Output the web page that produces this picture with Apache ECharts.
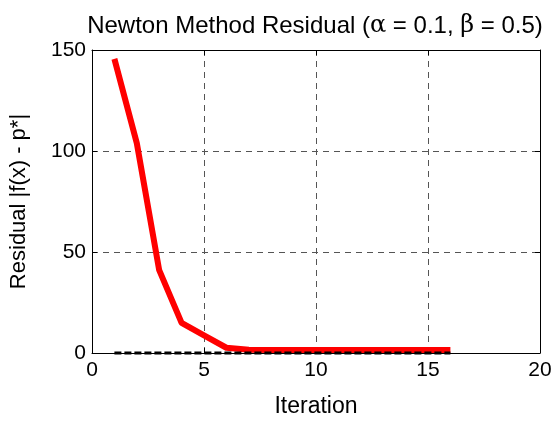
<!DOCTYPE html>
<html>
<head>
<meta charset="utf-8">
<script src="https://cdn.jsdelivr.net/npm/echarts@6/dist/echarts.min.js"></script>
<style>
html,body{margin:0;padding:0;background:#fff;}
#chart{width:555px;height:423px;}
</style>
</head>
<body>
<div id="chart"></div>
<script>
var iterations = [1, 2, 3, 4, 5, 6, 7, 8, 9, 10, 11, 12, 13, 14, 15, 16];
var residuals = [145.6, 103.9, 41, 14.9, 8.7, 2.6, 1.6, 1.5, 1.5, 1.5, 1.5, 1.5, 1.5, 1.5, 1.5, 1.5];
var zeroLine = [0, 0, 0, 0, 0, 0, 0, 0, 0, 0, 0, 0, 0, 0, 0, 0];
var xTicks = [0, 5, 10, 15, 20];
var yTicks = [0, 50, 100, 150];

var FONT = 'Liberation Sans, Arial, sans-serif';
var chart = echarts.init(document.getElementById('chart'));

function pairs(xs, ys) { return xs.map(function (x, i) { return [x, ys[i]]; }); }

var baseAxis = {
  axisLine: { show: true, onZero: false, lineStyle: { color: '#000', width: 1 } },
  axisTick: { show: true, inside: true, length: 5, lineStyle: { color: '#000', width: 1 } },
  axisLabel: { color: '#000', fontSize: 21, fontFamily: FONT },
  splitLine: { show: false }
};

chart.setOption({
  animation: false,
  backgroundColor: '#fff',
  title: {
    text: 'Newton Method Residual ({g|α} = 0.1, {g|β} = 0.5)',
    left: 310, top: 9, textAlign: 'center',
    textStyle: {
      color: '#000', fontSize: 24, fontWeight: 'normal', fontFamily: FONT,
      rich: { g: { fontFamily: 'DejaVu Serif, Liberation Serif, serif', fontSize: 24, color: '#000' } }
    }
  },
  grid: { left: 92, top: 50, width: 448, height: 307, containLabel: false },
  xAxis: [
    Object.assign({}, baseAxis, {
      type: 'value', min: 0, max: 20, interval: 5, position: 'bottom',
      name: 'Iteration', nameLocation: 'middle', nameGap: 42,
      nameTextStyle: { color: '#000', fontSize: 23, fontFamily: FONT },
      axisLabel: { color: '#000', fontSize: 21, fontFamily: FONT, margin: 7,
        formatter: function (v) { return xTicks.indexOf(v) >= 0 ? String(v) : ''; } },
      splitLine: { show: true, lineStyle: { color: '#555', width: 1, type: [6, 5] } }
    }),
    Object.assign({}, baseAxis, {
      type: 'value', min: 0, max: 20, interval: 5, position: 'top',
      axisLabel: { show: false }
    })
  ],
  yAxis: [
    Object.assign({}, baseAxis, {
      type: 'value', min: 0, max: 150, interval: 50, position: 'left',
      name: 'Residual |f(x) - p*|', nameLocation: 'middle', nameGap: 62, nameRotate: 90,
      nameTextStyle: { color: '#000', fontSize: 22, fontFamily: FONT },
      axisLabel: { color: '#000', fontSize: 21, fontFamily: FONT, margin: 6,
        formatter: function (v) { return yTicks.indexOf(v) >= 0 ? String(v) : ''; } },
      splitLine: { show: true, lineStyle: { color: '#555', width: 1, type: [6, 5] } }
    }),
    Object.assign({}, baseAxis, {
      type: 'value', min: 0, max: 150, interval: 50, position: 'right',
      axisLabel: { show: false }
    })
  ],
  series: [
    {
      type: 'line', data: pairs(iterations, residuals), showSymbol: false, symbol: 'none',
      clip: false, z: 3,
      lineStyle: { color: '#ff0000', width: 6, join: 'round' }
    },
    {
      type: 'line', data: pairs(iterations, zeroLine), showSymbol: false, symbol: 'none',
      clip: false, z: 4,
      lineStyle: { color: '#000', width: 3, type: [7, 3] }
    }
  ]
});
</script>
</body>
</html>
